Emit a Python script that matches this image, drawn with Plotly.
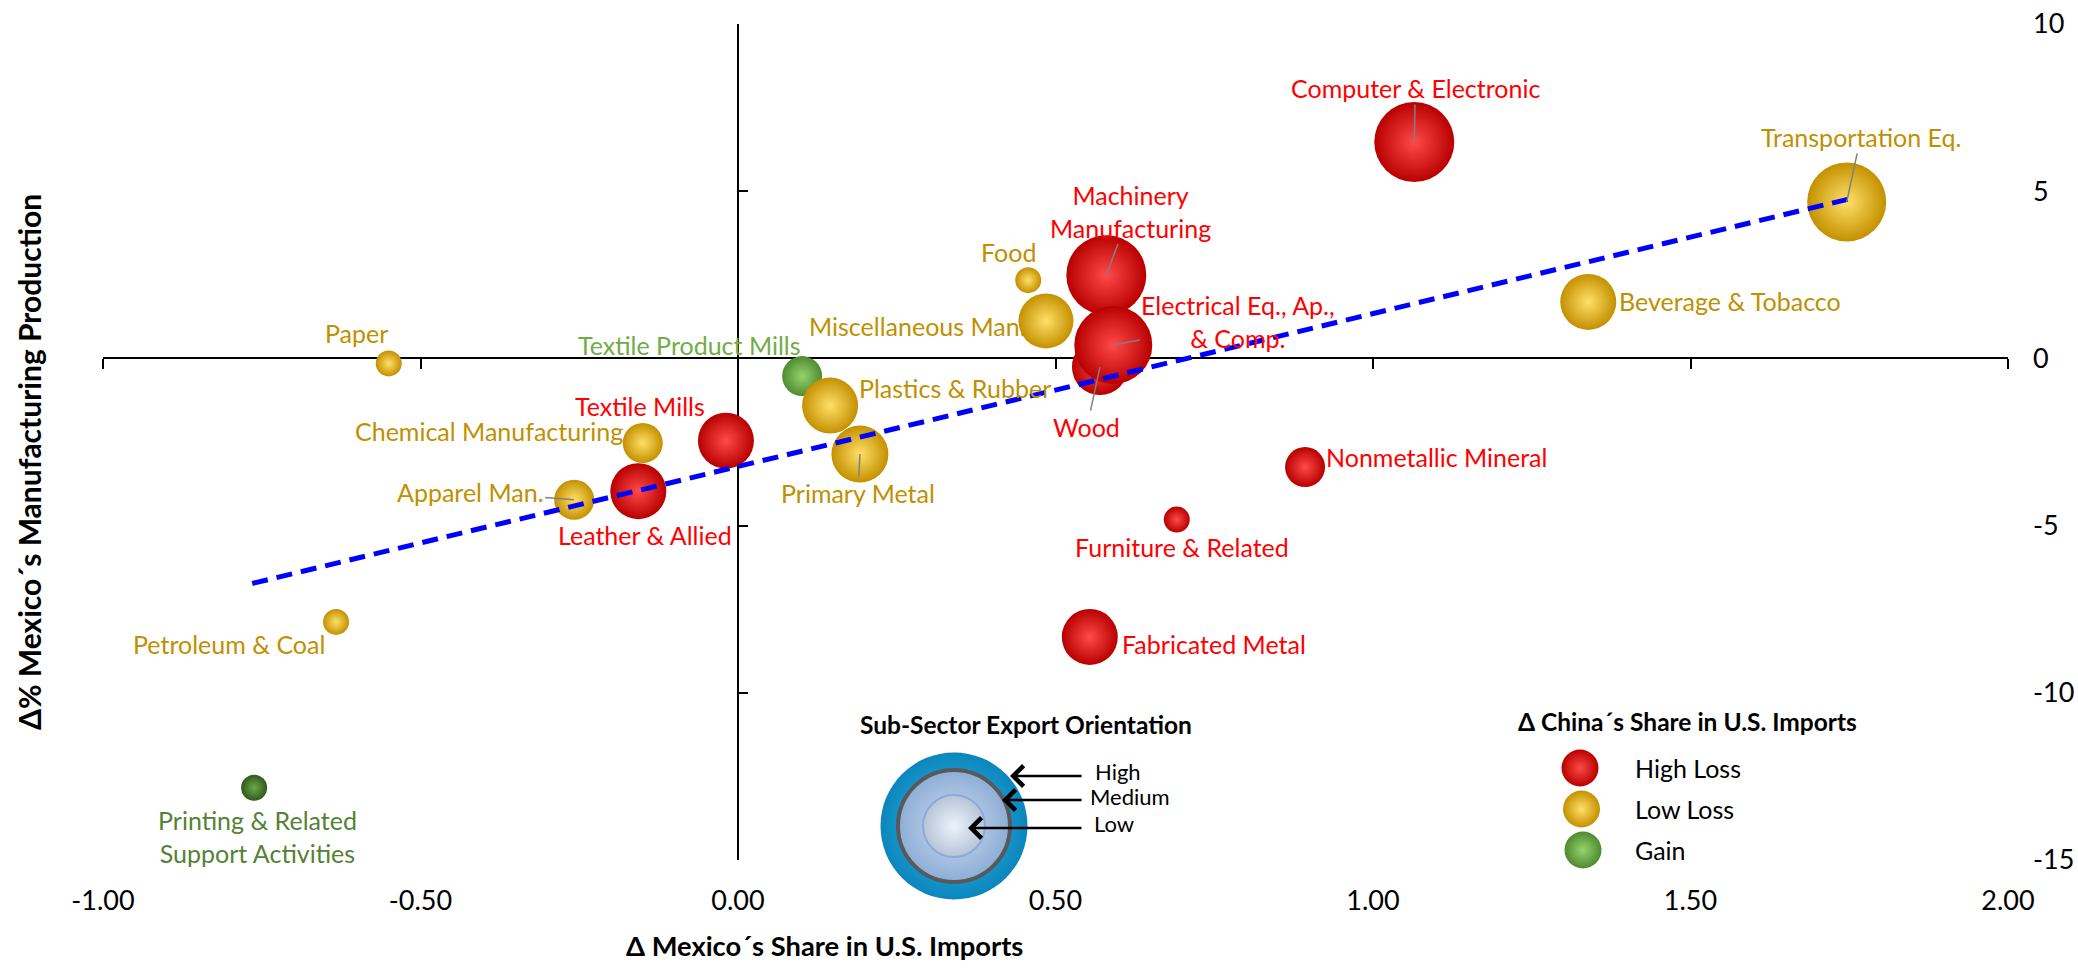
import plotly.graph_objects as go

# ---------------- data ----------------
sectors = ["Computer & Electronic", "Transportation Eq.", "Machinery Manufacturing", "Wood",
           "Electrical Eq., Ap., & Comp.", "Beverage & Tobacco", "Nonmetallic Mineral",
           "Furniture & Related", "Fabricated Metal", "Food", "Miscellaneous Man.",
           "Textile Product Mills", "Plastics & Rubber", "Primary Metal", "Textile Mills",
           "Chemical Manufacturing", "Leather & Allied", "Apparel Man.", "Paper",
           "Petroleum & Coal", "Printing & Related Support Activities"]
mexico_share_change = [1.065, 1.746, 0.580, 0.570, 0.591, 1.339, 0.893, 0.691, 0.554, 0.457, 0.485,
                       0.101, 0.145, 0.192, -0.019, -0.150, -0.157, -0.258, -0.550, -0.633, -0.762]
production_change = [6.47, 4.68, 2.49, -0.26, 0.40, 1.69, -3.25, -4.82, -8.33, 2.34, 1.12,
                     -0.53, -1.41, -2.86, -2.46, -2.53, -3.97, -4.23, -0.15, -7.88, -12.84]
export_orientation = [80, 79, 80, 56, 78, 56, 40, 26, 56, 26, 55, 40, 56, 57, 56, 40, 56, 40, 26, 26, 26]
china_change = ["High Loss", "Low Loss", "High Loss", "High Loss", "High Loss", "Low Loss", "High Loss",
                "High Loss", "High Loss", "Low Loss", "Low Loss", "Gain", "Low Loss", "Low Loss",
                "High Loss", "Low Loss", "High Loss", "Low Loss", "Low Loss", "Low Loss", "Gain"]
trend_x = [-0.765, 1.748]
trend_y = [-6.73, 4.76]
x_ticks = [-1.0, -0.5, 0.0, 0.5, 1.0, 1.5, 2.0]
y_ticks = [-15, -10, -5, 0, 5, 10]
orientation_levels = ["High", "Medium", "Low"]
china_levels = ["High Loss", "Low Loss", "Gain"]

# ---------------- styles ----------------
FONT = "Lato, 'Open Sans', sans-serif"
LBL = 25
cat_style = {
    "High Loss": dict(edge="#b80000", center="#ff4a4a", text="#FF0000"),
    "Low Loss": dict(edge="#c49000", center="#ffe06a", text="#BF9000"),
    "Gain": dict(edge="#4f8a30", center="#95d46e", text="#70AD47"),
}
point_override = {
    "Printing & Related Support Activities": dict(edge="#2f5a1a", center="#6fa84a", text="#548235"),
}
label_text = {
    "Machinery Manufacturing": "Machinery<br>Manufacturing",
    "Electrical Eq., Ap., & Comp.": "Electrical Eq., Ap.,<br>& Comp.",
    "Printing & Related Support Activities": "Printing & Related<br>Support Activities",
}
# (anchor, dx px, dy px (down +), leader line)
label_pos = {
    "Computer & Electronic": ("center", 1, -54, True),
    "Transportation Eq.": ("center", 14, -65, True),
    "Machinery Manufacturing": ("center", 24, -64, True),
    "Wood": ("center", -13, 60, True),
    "Electrical Eq., Ap., & Comp.": ("center", 125, -24, True),
    "Beverage & Tobacco": ("left", 29, -1, False),
    "Nonmetallic Mineral": ("left", 19, -10, False),
    "Furniture & Related": ("center", 5, 27, False),
    "Fabricated Metal": ("left", 30, 7, False),
    "Food": ("center", -20, -28, False),
    "Miscellaneous Man.": ("left", -239, 5, False),
    "Textile Product Mills": ("right", 1, -31, False),
    "Plastics & Rubber": ("left", 27, -18, False),
    "Primary Metal": ("center", -2, 39, True),
    "Textile Mills": ("right", -19, -35, False),
    "Chemical Manufacturing": ("right", -18, -12, False),
    "Leather & Allied": ("center", 7, 44, False),
    "Apparel Man.": ("center", -104, -8, True),
    "Paper": ("center", -32, -30, False),
    "Petroleum & Coal": ("right", -9, 22, False),
    "Printing & Related Support Activities": ("center", 3, 49, False),
}

def sty(i):
    return point_override.get(sectors[i], cat_style[china_change[i]])

edges = [sty(i)["edge"] for i in range(len(sectors))]
centers = [sty(i)["center"] for i in range(len(sectors))]

fig = go.Figure()

# bubbles
fig.add_trace(go.Scatter(
    x=mexico_share_change, y=production_change, mode="markers",
    marker=dict(size=export_orientation, sizemode="diameter", color=edges,
                gradient=dict(type="radial", color=centers), line=dict(width=0), opacity=1),
    text=sectors, hoverinfo="text", showlegend=False, cliponaxis=False))

# trend line
fig.add_trace(go.Scatter(x=trend_x, y=trend_y, mode="lines",
                         line=dict(color="#0000FF", width=5, dash="16px,9px"),
                         hoverinfo="skip", showlegend=False))

# empty trace so the label-only frame axes are drawn
fig.add_trace(go.Scatter(x=[], y=[], xaxis="x2", yaxis="y2", mode="markers",
                         hoverinfo="skip", showlegend=False))

annotations = []
for i, name in enumerate(sectors):
    anchor, dx, dy, leader = label_pos[name]
    txt = label_text.get(name, name)
    col = sty(i)["text"]
    if leader:
        annotations.append(dict(x=mexico_share_change[i], y=production_change[i], xref="x", yref="y",
                                text=txt, showarrow=True, ax=dx, ay=dy, arrowhead=0, arrowwidth=1.5,
                                arrowcolor="#808080", standoff=0,
                                font=dict(family=FONT, size=LBL, color=col)))
    else:
        annotations.append(dict(x=mexico_share_change[i], y=production_change[i], xref="x", yref="y",
                                text=txt, showarrow=False, xshift=dx, yshift=-dy, xanchor=anchor,
                                yanchor="middle", font=dict(family=FONT, size=LBL, color=col)))

# ---------------- custom legends (pixel-space overlay axes) ----------------
W, H = 2078, 968
PL, PR, PT, PB = 103, 2008, 24, 860
# legend 1 : export orientation rings
L1 = dict(cx=954, cy=826, title_x=1026, title_y=724)
ring_d = [147, 112, 62]
ring_edge = ["#0b86bd", "#8eaed6", "#b6c4d6"]
ring_center = ["#36bdf0", "#c9dbf0", "#edf4fb"]
ring_line = [dict(width=0), dict(width=4, color="#595959"), dict(width=2, color="#8ea9db")]
for d, e, c, ln in zip(ring_d, ring_edge, ring_center, ring_line):
    fig.add_trace(go.Scatter(x=[L1["cx"]], y=[L1["cy"]], xaxis="x3", yaxis="y3", mode="markers",
                             marker=dict(size=d, color=e, gradient=dict(type="radial", color=c), line=ln),
                             hoverinfo="skip", showlegend=False, cliponaxis=False))
arrow_tip_x = [1010, 1002, 968]
arrow_y = [776, 800, 828]
arrow_tail_x = 1083
level_text_x = [1093, 1088, 1092]
level_text_y = [771, 796, 823]
for lvl, tx, ay_, lx, ly in zip(orientation_levels, arrow_tip_x, arrow_y, level_text_x, level_text_y):
    annotations.append(dict(x=tx, y=ay_, xref="x3", yref="y3", ax=arrow_tail_x, ay=ay_, axref="x3",
                            ayref="y3", text="", showarrow=True, arrowhead=4, arrowsize=1.6,
                            arrowwidth=2.5, arrowcolor="black", standoff=0))
    annotations.append(dict(x=lx, y=ly, xref="x3", yref="y3", text=lvl, showarrow=False,
                            xanchor="left", yanchor="middle",
                            font=dict(family=FONT, size=22, color="black")))
annotations.append(dict(x=L1["title_x"], y=L1["title_y"], xref="x3", yref="y3",
                        text="<b>Sub-Sector Export Orientation</b>", showarrow=False,
                        xanchor="center", yanchor="middle",
                        font=dict(family=FONT, size=24.5, color="black")))

# legend 2 : China share change
L2 = dict(mx=1580, my=768, step=41, tx=1633, title_x=1687, title_y=721)
for k, lvl in enumerate(china_levels):
    st = cat_style[lvl]
    fig.add_trace(go.Scatter(x=[L2["mx"] + 1.5 * k], y=[L2["my"] + L2["step"] * k], xaxis="x3", yaxis="y3",
                             mode="markers",
                             marker=dict(size=37, color=st["edge"], gradient=dict(type="radial", color=st["center"]),
                                         line=dict(width=0)),
                             hoverinfo="skip", showlegend=False, cliponaxis=False))
    annotations.append(dict(x=L2["tx"], y=L2["my"] + L2["step"] * k, xref="x3", yref="y3", text=lvl,
                            showarrow=False, xanchor="left", yanchor="middle",
                            font=dict(family=FONT, size=25, color="black")))
annotations.append(dict(x=L2["title_x"], y=L2["title_y"], xref="x3", yref="y3",
                        text="<b>Δ China´s Share in U.S. Imports</b>", showarrow=False,
                        xanchor="center", yanchor="middle",
                        font=dict(family=FONT, size=24.5, color="black")))

# axis titles (paper coordinates)
def px2paper(px, py):
    return (px - PL) / (PR - PL), (PB - py) / (PB - PT)

tx_, ty_ = px2paper(824, 945)
annotations.append(dict(x=tx_, y=ty_, xref="paper", yref="paper", xanchor="center", yanchor="middle",
                        text="<b>Δ Mexico´s Share in U.S. Imports</b>", showarrow=False,
                        font=dict(family=FONT, size=27.3, color="black")))
tx_, ty_ = px2paper(29, 462)
annotations.append(dict(x=tx_, y=ty_, xref="paper", yref="paper", xanchor="center", yanchor="middle",
                        text="<b>Δ% Mexico´s Manufacturing Production</b>",
                        showarrow=False, textangle=-90, font=dict(family=FONT, size=30, color="black")))

xr = [x_ticks[0], x_ticks[-1]]
yr = [y_ticks[0], y_ticks[-1]]
fig.update_layout(
    width=W, height=H, margin=dict(l=PL, r=W - PR, t=PT, b=H - PB, autoexpand=False),
    paper_bgcolor="white", plot_bgcolor="rgba(0,0,0,0)",
    font=dict(family=FONT, color="black"),
    # crossing axes carrying lines and tick marks
    xaxis=dict(range=xr, anchor="free", position=(0 - yr[0]) / (yr[1] - yr[0]), showline=True,
               linecolor="black", linewidth=2, ticks="outside", ticklen=10, tickwidth=2, tickcolor="black",
               tickvals=x_ticks, showticklabels=False, showgrid=False, zeroline=False, layer="below traces",
               automargin=False),
    yaxis=dict(range=yr, anchor="free", position=(0 - xr[0]) / (xr[1] - xr[0]), side="left", showline=True,
               linecolor="black", linewidth=2, ticks="inside", ticklen=9, tickwidth=2, tickcolor="black",
               tickvals=y_ticks, showticklabels=False, showgrid=False, zeroline=False, layer="below traces",
               automargin=False),
    # label-only axes at the frame edges
    xaxis2=dict(range=xr, overlaying="x", anchor="y2", side="bottom", tickvals=x_ticks,
                ticktext=[f"{v:.2f}" for v in x_ticks], ticks="", showline=False, showgrid=False,
                zeroline=False, ticklabelstandoff=22, automargin=False,
                tickfont=dict(family=FONT, size=27, color="black")),
    yaxis2=dict(range=yr, overlaying="y", anchor="x2", side="right", tickvals=y_ticks,
                ticktext=[str(v) for v in y_ticks], ticks="", showline=False, showgrid=False,
                zeroline=False, ticklabelstandoff=24, automargin=False,
                tickfont=dict(family=FONT, size=27, color="black")),
    # pixel-space axes for the custom legends
    xaxis3=dict(range=[PL, PR], overlaying="x", anchor="y3", visible=False, automargin=False),
    yaxis3=dict(range=[PB, PT], overlaying="y", anchor="x3", visible=False, automargin=False),
    annotations=annotations,
)

fig.write_html("out.html")
